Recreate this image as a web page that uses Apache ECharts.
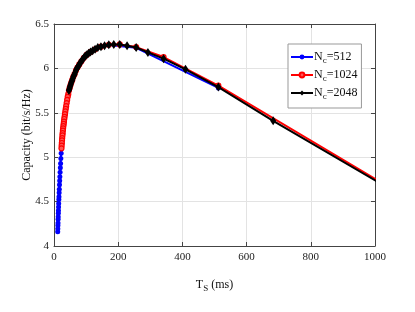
<!DOCTYPE html>
<html>
<head>
<meta charset="utf-8">
<script src="https://cdn.jsdelivr.net/npm/echarts@6/dist/echarts.min.js"></script>
<style>html,body{margin:0;padding:0;background:#fff}#c{width:415px;height:312px}</style>
</head>
<body>
<div id="c"></div>
<script>
// T_S values (ms) and capacities (bit/s/Hz) per series
const ts512 = [512, 256, 170.7, 128, 102.4, 85.3, 73.1, 64, 56.9, 51.2, 46.5, 42.7, 39.4, 36.6, 34.1, 32, 30.1, 28.4, 26.9, 25.6, 24.4, 23.3, 22.3, 21.3, 20.5, 19.7, 19.0, 18.3, 17.7, 17.1, 16.5, 16.0, 15.5, 15.1, 14.6, 14.2, 13.8, 13.5, 13.1, 12.8, 12.5, 12.2, 11.9, 11.6];
const cap512 = [5.78, 6.232, 6.263, 6.213, 6.153, 6.078, 6.008, 5.933, 5.868, 5.808, 5.748, 5.678, 5.608, 5.543, 5.478, 5.428, 5.373, 5.323, 5.268, 5.213, 5.158, 5.10, 5.045, 4.985, 4.93, 4.88, 4.83, 4.78, 4.735, 4.69, 4.64, 4.60, 4.555, 4.525, 4.48, 4.44, 4.40, 4.37, 4.33, 4.30, 4.26, 4.23, 4.195, 4.16];

const ts1024 = [1024, 512, 341.3, 256, 204.8, 170.7, 146.3, 128, 113.8, 102.4, 93.1, 85.3, 78.8, 73.1, 68.3, 64, 60.2, 56.9, 53.9, 51.2, 48.8, 46.5, 44.5, 42.7, 41.0, 39.4, 37.9, 36.6, 35.3, 34.1, 33.0, 32.0, 31.0, 30.1, 29.3, 28.4, 27.7, 26.9, 26.3, 25.6, 25.0, 24.4, 23.8, 23.3];
const cap1024 = [4.705, 5.805, 6.128, 6.24, 6.27, 6.265, 6.245, 6.215, 6.185, 6.155, 6.12, 6.08, 6.045, 6.01, 5.975, 5.935, 5.905, 5.87, 5.84, 5.81, 5.78, 5.75, 5.71, 5.68, 5.645, 5.61, 5.575, 5.545, 5.515, 5.485, 5.455, 5.43, 5.40, 5.375, 5.35, 5.325, 5.30, 5.27, 5.245, 5.215, 5.19, 5.16, 5.13, 5.10];

const ts2048 = [1024, 682.7, 512, 409.6, 341.3, 292.6, 256, 227.6, 204.8, 186.2, 170.7, 157.5, 146.3, 136.5, 128, 120.5, 113.8, 107.8, 102.4, 97.5, 93.1, 89.0, 85.3, 81.9, 78.8, 75.9, 73.1, 70.6, 68.3, 66.1, 64.0, 62.1, 60.2, 58.5, 56.9, 55.4, 53.9, 52.5, 51.2, 50.0, 48.8, 47.6, 46.5];
const cap2048 = [4.69, 5.41, 5.79, 5.99, 6.11, 6.18, 6.235, 6.255, 6.27, 6.27, 6.265, 6.255, 6.245, 6.235, 6.215, 6.20, 6.185, 6.17, 6.155, 6.14, 6.12, 6.10, 6.08, 6.065, 6.045, 6.025, 6.01, 5.995, 5.975, 5.955, 5.935, 5.92, 5.905, 5.885, 5.87, 5.855, 5.84, 5.825, 5.81, 5.795, 5.78, 5.765, 5.75];

const xTicks = [0, 200, 400, 600, 800, 1000];
const yTicks = [4, 4.5, 5, 5.5, 6, 6.5];
const seriesNames = ['Nc=512', 'Nc=1024', 'Nc=2048'];
const legendValues = ['512', '1024', '2048'];

const pairs = (xs, ys) => xs.map((x, i) => [x, ys[i]]);
const FONT = '"Liberation Serif", "DejaVu Serif", serif';
const AX = '#444';

const chart = echarts.init(document.getElementById('c'), null, {renderer: 'canvas'});
const baseX = {
  type: 'value', min: xTicks[0], max: xTicks[xTicks.length - 1], interval: xTicks[1] - xTicks[0]
};
const baseY = {
  type: 'value', min: yTicks[0], max: yTicks[yTicks.length - 1], interval: yTicks[1] - yTicks[0]
};
const rich = {
  n: {fontFamily: FONT, fontSize: 12, color: '#111', lineHeight: 16, verticalAlign: 'middle'},
  s: {fontFamily: FONT, fontSize: 9, color: '#111', lineHeight: 4, verticalAlign: 'bottom'}
};

chart.setOption({
  animation: false,
  backgroundColor: '#fff',
  grid: {left: 54, right: 40, top: 24, bottom: 66, show: false},
  legend: {
    orient: 'vertical', left: 288, top: 44,
    data: seriesNames,
    backgroundColor: '#fff', borderColor: '#999', borderWidth: 1,
    padding: [7, 4, 7, 2],
    itemWidth: 22, itemHeight: 6, itemGap: 4,
    formatter: name => '{n|N}{s|c}{n|=' + legendValues[seriesNames.indexOf(name)] + '}',
    textStyle: {rich: rich, padding: [0, 0, 0, -4]}
  },
  xAxis: [
    Object.assign({}, baseX, {
      position: 'bottom',
      name: '{n|T}{s|S}{n| (ms)}', nameLocation: 'middle', nameGap: 31, nameMoveOverlap: false,
      nameTextStyle: {rich: {n: {fontFamily: FONT, fontSize: 12, color: '#111', lineHeight: 16}, s: {fontFamily: FONT, fontSize: 9, color: '#111', lineHeight: 4, verticalAlign: 'bottom'}}},
      axisLine: {show: true, onZero: false, lineStyle: {color: AX, width: 1}},
      axisTick: {show: true, inside: true, length: 4, lineStyle: {color: AX}},
      axisLabel: {margin: 6, fontFamily: FONT, fontSize: 11, color: '#222', formatter: v => String(v)},
      splitLine: {show: true, lineStyle: {color: '#e3e3e3', width: 1}}
    }),
    Object.assign({}, baseX, {
      position: 'top',
      axisLine: {show: true, onZero: false, lineStyle: {color: AX, width: 1}},
      axisTick: {show: true, inside: true, length: 4, lineStyle: {color: AX}},
      axisLabel: {show: false}, splitLine: {show: false}
    })
  ],
  yAxis: [
    Object.assign({}, baseY, {
      position: 'left',
      name: 'Capacity (bit/s/Hz)', nameLocation: 'middle', nameGap: 21, nameMoveOverlap: false,
      nameTextStyle: {fontFamily: FONT, fontSize: 12, color: '#111'},
      axisLine: {show: true, onZero: false, lineStyle: {color: AX, width: 1}},
      axisTick: {show: true, inside: true, length: 4, lineStyle: {color: AX}},
      axisLabel: {margin: 5, fontFamily: FONT, fontSize: 11, color: '#222', formatter: v => String(v)},
      splitLine: {show: true, lineStyle: {color: '#e3e3e3', width: 1}}
    }),
    Object.assign({}, baseY, {
      position: 'right',
      axisLine: {show: true, onZero: false, lineStyle: {color: AX, width: 1}},
      axisTick: {show: true, inside: true, length: 4, lineStyle: {color: AX}},
      axisLabel: {show: false}, splitLine: {show: false}
    })
  ],
  series: [
    {
      name: seriesNames[0], type: 'line', xAxisIndex: 0, yAxisIndex: 0,
      data: pairs(ts512, cap512),
      symbol: 'circle', symbolSize: 5, showAllSymbol: true,
      lineStyle: {color: '#0000ff', width: 2},
      itemStyle: {color: '#0000ff'}, z: 2
    },
    {
      name: seriesNames[1], type: 'line', xAxisIndex: 0, yAxisIndex: 0,
      data: pairs(ts1024, cap1024),
      symbol: 'circle', symbolSize: 5, showAllSymbol: true,
      lineStyle: {color: '#ff0000', width: 2},
      itemStyle: {color: '#ff5555', borderColor: '#ff0000', borderWidth: 1.2}, z: 3
    },
    {
      name: seriesNames[2], type: 'line', xAxisIndex: 0, yAxisIndex: 0,
      data: pairs(ts2048, cap2048),
      symbol: 'diamond', symbolSize: [6, 9], showAllSymbol: true,
      lineStyle: {color: '#000', width: 2},
      itemStyle: {color: '#000'}, z: 4
    }
  ]
});
</script>
</body>
</html>
